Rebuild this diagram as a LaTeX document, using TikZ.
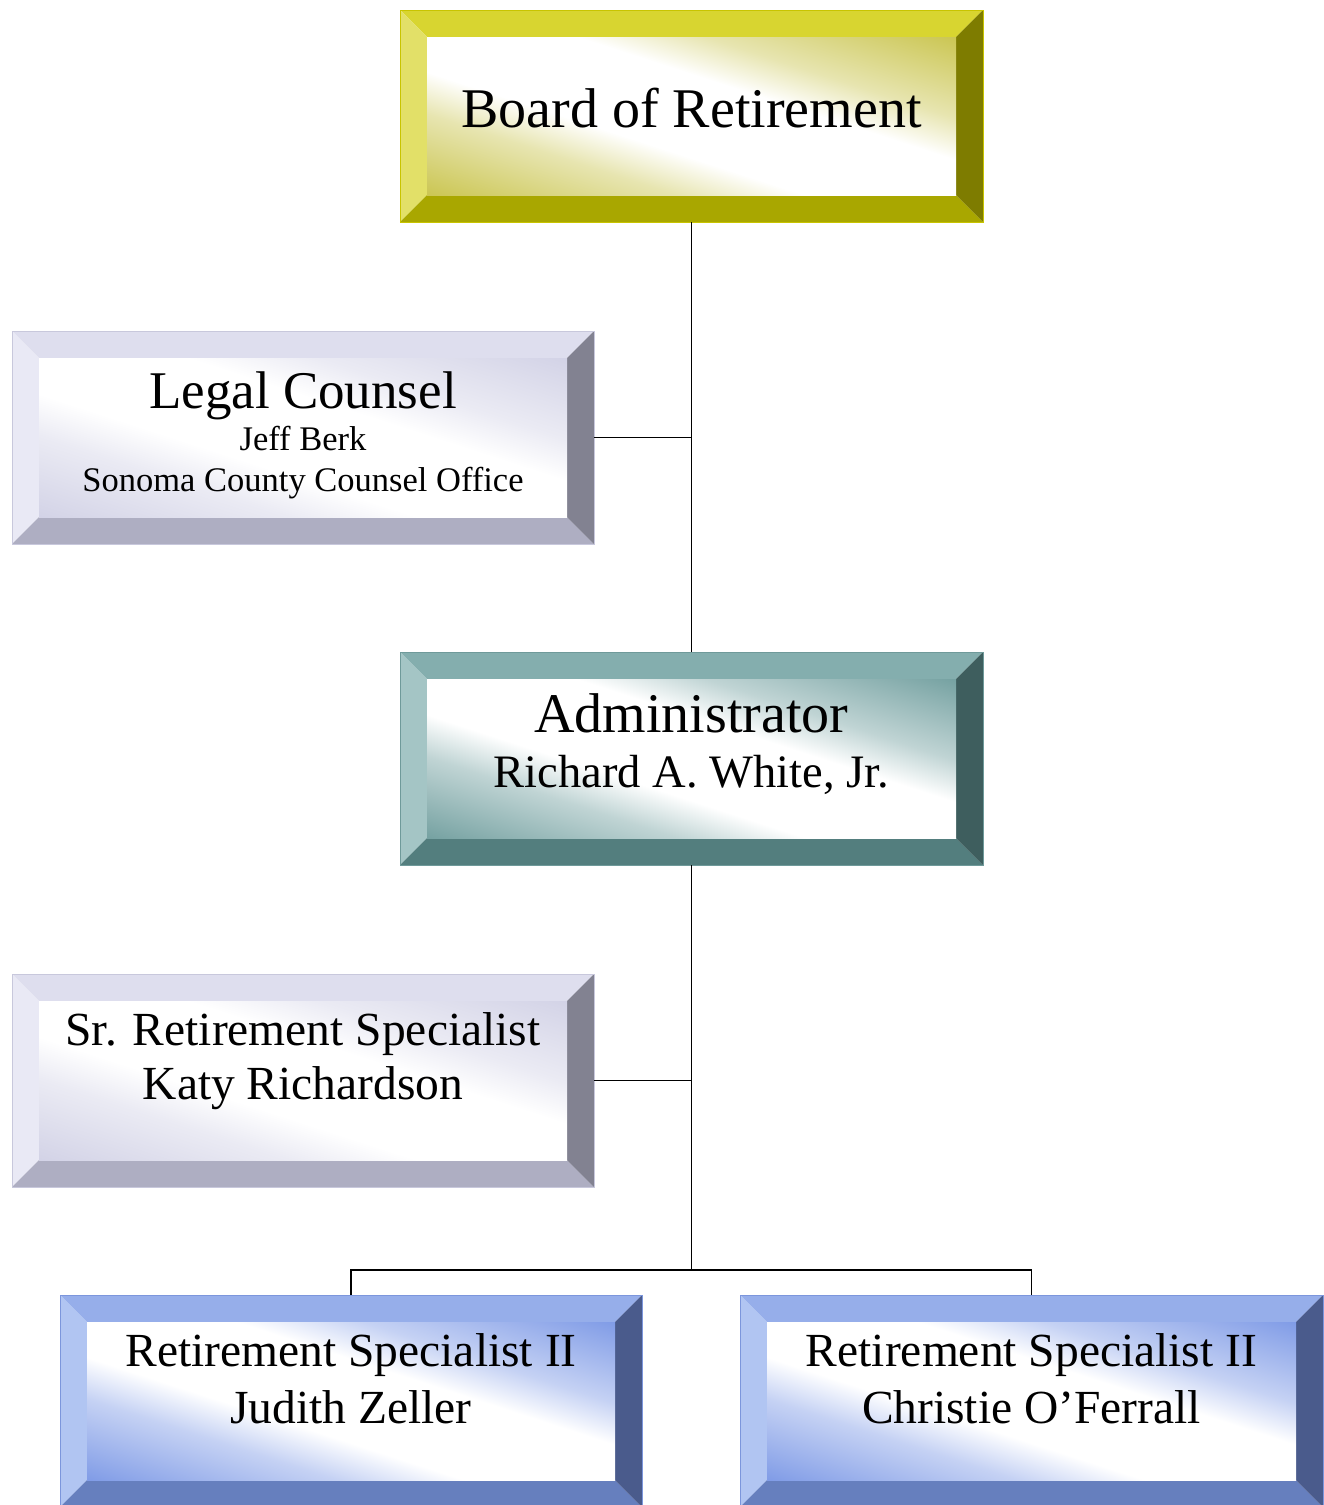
\documentclass[tikz,border=0pt]{standalone}
\usepackage{fontspec}
\setmainfont{Liberation Serif}
\usetikzlibrary{fit}
\definecolor{yT}{HTML}{D8D530}\definecolor{yL}{HTML}{E2E068}\definecolor{yB}{HTML}{A9A700}\definecolor{yR}{HTML}{7E7C00}\definecolor{yS}{HTML}{CAC550}\definecolor{yE}{HTML}{C8C400}
\definecolor{gT}{HTML}{DEDEEE}\definecolor{gL}{HTML}{E9E9F5}\definecolor{gB}{HTML}{AEAEC2}\definecolor{gR}{HTML}{828291}\definecolor{gS}{HTML}{D2D2E6}\definecolor{gE}{HTML}{C8C8DC}
\definecolor{tT}{HTML}{84AEAE}\definecolor{tL}{HTML}{A4C5C5}\definecolor{tB}{HTML}{537E7E}\definecolor{tR}{HTML}{3E5E5E}\definecolor{tS}{HTML}{73A0A0}\definecolor{tE}{HTML}{6F9A9A}
\definecolor{bT}{HTML}{96AEEA}\definecolor{bL}{HTML}{B1C5F2}\definecolor{bB}{HTML}{667FBE}\definecolor{bR}{HTML}{4A5B8C}\definecolor{bS}{HTML}{7E9AE6}\definecolor{bE}{HTML}{7C96DC}
\newcommand\mkbevshade[1]{%
 \pgfdeclareverticalshading{bev#1}{100bp}{color(0bp)=(#1S); color(18bp)=(#1S); color(34bp)=(#1S!45!white); color(42bp)=(white); color(58bp)=(white); color(66bp)=(#1S!45!white); color(82bp)=(#1S); color(100bp)=(#1S)}}
\mkbevshade{y}\mkbevshade{g}\mkbevshade{t}\mkbevshade{b}
\newcommand\bevbox[6]{%
 \fill[#6T] (#2,#3) -- (#4,#3) -- (#4-27,#3+27) -- (#2+27,#3+27) -- cycle;
 \fill[#6L] (#2,#3) -- (#2+27,#3+27) -- (#2+27,#5-27) -- (#2,#5) -- cycle;
 \fill[#6B] (#2,#5) -- (#2+27,#5-27) -- (#4-27,#5-27) -- (#4,#5) -- cycle;
 \fill[#6R] (#4,#3) -- (#4,#5) -- (#4-27,#5-27) -- (#4-27,#3+27) -- cycle;
 \shade[shading=bev#6, shading angle=-18] (#2+27,#3+27) rectangle (#4-27,#5-27);
 \draw[#6E, line width=0.8pt] (#2,#3) rectangle (#4,#5);
 \coordinate (#1-a) at (#2,#3); \coordinate (#1-b) at (#4,#5);
 \node[fit=(#1-a)(#1-b), inner sep=0pt] (#1) {};
}
\tikzset{
 conn/.style={draw=black, line width=1.8pt},
 big/.style={anchor=base, font=\fontsize{56}{60}\selectfont},
 mid/.style={anchor=base, font=\fontsize{47.5}{52}\selectfont},
 small/.style={anchor=base, font=\fontsize{34.5}{38}\selectfont},
}
\begin{document}
\begin{tikzpicture}[x=1pt, y=-1pt]
\useasboundingbox (0,0) rectangle (1324,1505);
\bevbox{board}{400}{10}{983}{222}{y}
\bevbox{legal}{12}{331}{594}{544}{g}
\bevbox{admin}{400}{652}{983}{865}{t}
\bevbox{sr}{12}{974}{594}{1187}{g}
\bevbox{rsa}{60}{1295}{642}{1507}{b}
\bevbox{rsb}{740}{1295}{1323}{1507}{b}

\node[big] (t1) at (691.5,127) {Board of Retirement};
\node[big, font=\fontsize{53}{57}\selectfont] (t2) at (303,408) {Legal Counsel};
\node[small] (t3) at (303,450) {Jeff Berk};
\node[small] (t4) at (303,491) {Sonoma County Counsel Office};
\node[big] (t5) at (691.5,732) {Administrator};
\node[anchor=base, font=\fontsize{46.5}{50}\selectfont] (t6) at (691.5,787) {Richard A. White, Jr.};
\node[mid] (t7) at (303,1045) {Sr. Retirement Specialist};
\node[mid] (t8) at (303,1099) {Katy Richardson};
\node[mid] (t9) at (351,1366) {Retirement Specialist II};
\node[mid] (t10) at (351,1423) {Judith Zeller};
\node[mid] (t11) at (1031.5,1366) {Retirement Specialist II};
\node[mid] (t12) at (1031.5,1423) {Christie O’Ferrall};

\coordinate (bus) at (691.5,1270);
\draw[conn] (board.south) -- (admin.north);
\draw[conn] (legal.east) -- (legal.east -| board.south);
\draw[conn] (admin.south) -- (bus);
\draw[conn] (sr.east) -- (sr.east -| admin.south);
\draw[conn] (rsa.north) |- (bus) -| (rsb.north);
\end{tikzpicture}
\end{document}
